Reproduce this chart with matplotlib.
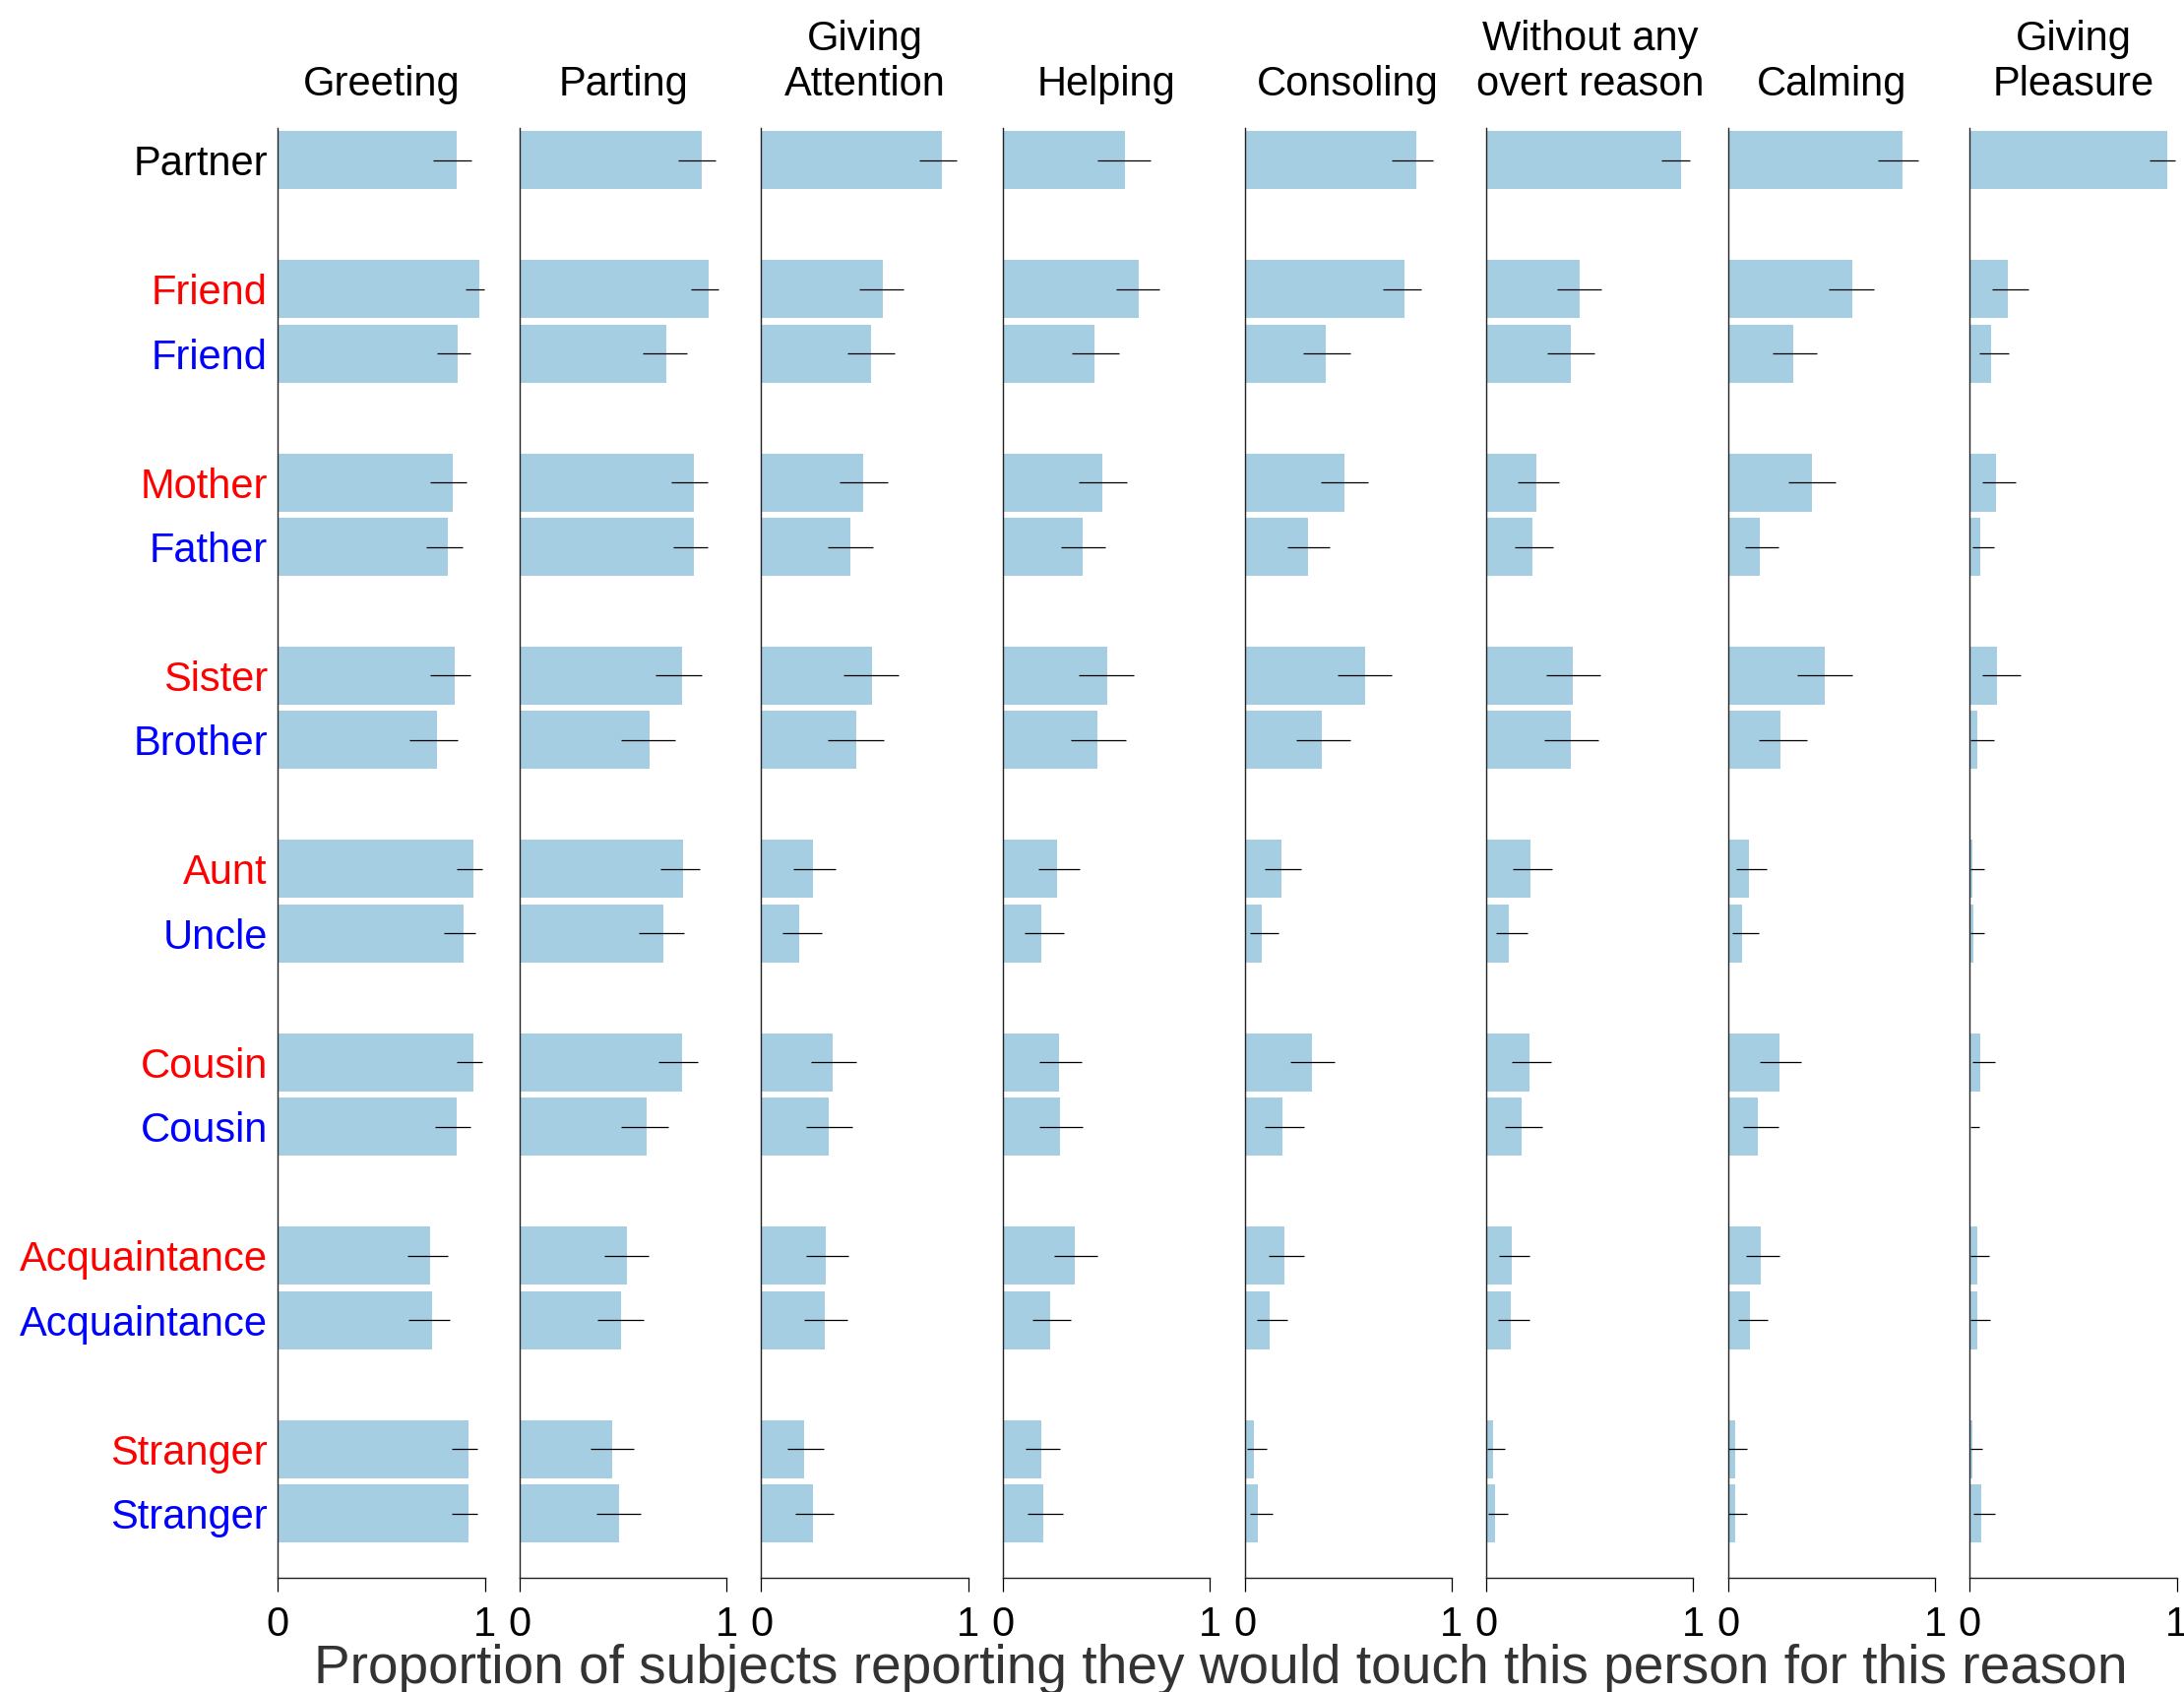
import numpy as np
import matplotlib
matplotlib.use("Agg")
import matplotlib.pyplot as plt

plt.rcParams['font.family'] = ['Liberation Sans', 'DejaVu Sans']

# righe (persone) e colore delle etichette
persons = ["Partner", "Friend", "Friend", "Mother", "Father", "Sister", "Brother",
           "Aunt", "Uncle", "Cousin", "Cousin", "Acquaintance", "Acquaintance",
           "Stranger", "Stranger"]
label_colors = ["black"] + ["red", "blue"] * 7

# pannelli (motivi del contatto)
reasons = ["Greeting", "Parting", "Giving\nAttention", "Helping", "Consoling",
           "Without any\novert reason", "Calming", "Giving\nPleasure"]

# proporzioni e intervalli (lo, hi) per ciascun motivo
greeting = [0.862, 0.973, 0.867, 0.843, 0.819, 0.856, 0.767, 0.943, 0.899, 0.945, 0.862, 0.734, 0.743, 0.919, 0.919]
greeting_lo = [0.750, 0.906, 0.769, 0.737, 0.716, 0.735, 0.636, 0.864, 0.802, 0.864, 0.761, 0.628, 0.632, 0.838, 0.838]
greeting_hi = [0.935, 0.995, 0.932, 0.913, 0.894, 0.932, 0.867, 0.986, 0.956, 0.986, 0.930, 0.821, 0.832, 0.965, 0.965]

parting = [0.878, 0.913, 0.711, 0.840, 0.841, 0.787, 0.630, 0.792, 0.697, 0.783, 0.614, 0.519, 0.490, 0.448, 0.481]
parting_lo = [0.765, 0.829, 0.595, 0.735, 0.741, 0.659, 0.492, 0.681, 0.575, 0.671, 0.492, 0.408, 0.376, 0.341, 0.371]
parting_hi = [0.946, 0.962, 0.808, 0.911, 0.911, 0.881, 0.751, 0.873, 0.795, 0.863, 0.721, 0.625, 0.600, 0.552, 0.586]

attention = [0.875, 0.588, 0.532, 0.494, 0.431, 0.534, 0.458, 0.250, 0.185, 0.345, 0.325, 0.314, 0.309, 0.206, 0.250]
attention_lo = [0.765, 0.475, 0.414, 0.377, 0.320, 0.399, 0.323, 0.157, 0.103, 0.241, 0.219, 0.217, 0.209, 0.125, 0.162]
attention_hi = [0.943, 0.689, 0.645, 0.609, 0.540, 0.662, 0.593, 0.358, 0.292, 0.458, 0.441, 0.422, 0.418, 0.303, 0.349]

helping = [0.590, 0.658, 0.444, 0.482, 0.387, 0.502, 0.458, 0.263, 0.187, 0.273, 0.274, 0.349, 0.227, 0.184, 0.197]
helping_lo = [0.455, 0.545, 0.331, 0.365, 0.279, 0.368, 0.326, 0.170, 0.105, 0.176, 0.176, 0.249, 0.141, 0.111, 0.119]
helping_hi = [0.712, 0.756, 0.559, 0.597, 0.494, 0.631, 0.593, 0.372, 0.293, 0.382, 0.387, 0.456, 0.330, 0.277, 0.292]

consoling = [0.829, 0.772, 0.392, 0.483, 0.304, 0.584, 0.375, 0.176, 0.081, 0.323, 0.182, 0.191, 0.120, 0.044, 0.066]
consoling_lo = [0.709, 0.668, 0.282, 0.367, 0.206, 0.449, 0.248, 0.098, 0.028, 0.220, 0.098, 0.114, 0.058, 0.011, 0.024]
consoling_hi = [0.911, 0.854, 0.509, 0.598, 0.410, 0.709, 0.509, 0.275, 0.166, 0.434, 0.286, 0.288, 0.207, 0.108, 0.136]

no_reason = [0.940, 0.451, 0.407, 0.242, 0.223, 0.419, 0.408, 0.214, 0.108, 0.210, 0.169, 0.123, 0.120, 0.033, 0.044]
no_reason_lo = [0.847, 0.340, 0.294, 0.150, 0.136, 0.290, 0.278, 0.128, 0.046, 0.125, 0.090, 0.063, 0.055, 0.006, 0.011]
no_reason_hi = [0.983, 0.557, 0.522, 0.350, 0.323, 0.552, 0.543, 0.318, 0.198, 0.313, 0.271, 0.209, 0.207, 0.092, 0.106]

calming = [0.843, 0.600, 0.316, 0.407, 0.153, 0.468, 0.255, 0.101, 0.068, 0.248, 0.142, 0.158, 0.108, 0.033, 0.033]
calming_lo = [0.726, 0.486, 0.215, 0.293, 0.081, 0.335, 0.149, 0.041, 0.019, 0.155, 0.071, 0.085, 0.047, 0.003, 0.003]
calming_hi = [0.921, 0.703, 0.430, 0.522, 0.244, 0.600, 0.384, 0.187, 0.147, 0.354, 0.242, 0.250, 0.193, 0.090, 0.090]

pleasure = [0.956, 0.185, 0.103, 0.128, 0.049, 0.134, 0.036, 0.014, 0.016, 0.051, 0.004, 0.035, 0.038, 0.011, 0.055]
pleasure_lo = [0.869, 0.108, 0.044, 0.062, 0.013, 0.060, 0.002, 0.002, 0.002, 0.013, 0.001, 0.005, 0.005, 0.002, 0.017]
pleasure_hi = [0.991, 0.283, 0.191, 0.220, 0.116, 0.245, 0.116, 0.068, 0.071, 0.122, 0.046, 0.093, 0.100, 0.060, 0.122]

panels = [(greeting, greeting_lo, greeting_hi),
          (parting, parting_lo, parting_hi),
          (attention, attention_lo, attention_hi),
          (helping, helping_lo, helping_hi),
          (consoling, consoling_lo, consoling_hi),
          (no_reason, no_reason_lo, no_reason_hi),
          (calming, calming_lo, calming_hi),
          (pleasure, pleasure_lo, pleasure_hi)]

# Partner in alto, poi coppie (rosso/blu) separate da una riga vuota
ypos = [0] + [3 * k + j - 1 for k in range(1, 8) for j in (0, 1)]

W, H = 2219, 1719
fig = plt.figure(figsize=(W / 100, H / 100), dpi=100)

left0 = 282.3 / W
step = 245.57 / W
width = 210.3 / W
bottom = 1 - 1603 / H
top = 1 - 130 / H

bar_color = "#a6cee3"

for i, (reason, (vals, lo, hi)) in enumerate(zip(reasons, panels)):
    ax = fig.add_axes([left0 + i * step, bottom, width, top - bottom])
    ax.barh(ypos, vals, height=0.9, color=bar_color, edgecolor="none")
    ax.hlines(ypos, lo, hi, color="black", linewidth=0.9)
    ax.set_xlim(0, 1)
    ax.set_ylim(22, -0.5)
    ax.set_xticks([0, 1])
    ax.set_xticklabels(["0", "1"], fontsize=30)
    ax.tick_params(axis="x", length=10, width=0.9, pad=10)
    ax.spines["top"].set_visible(False)
    ax.spines["right"].set_visible(False)
    for s in ("left", "bottom"):
        ax.spines[s].set_linewidth(1.0)
        ax.spines[s].set_color("#222222")
    if i == 0:
        ax.set_yticks(ypos)
        ax.set_yticklabels(persons, fontsize=30)
        ax.tick_params(axis="y", length=0, pad=7.5)
        for lab, c in zip(ax.get_yticklabels(), label_colors):
            lab.set_color(c)
    else:
        ax.set_yticks([])
    ax.set_title(reason, fontsize=30, va="bottom", pad=17, linespacing=1.22)

fig.text(1240 / W, 1 - 1710 / H,
         "Proportion of subjects reporting they would touch this person for this reason",
         ha="center", va="baseline", fontsize=39.6, color="#333333")

plt.savefig("out.png", dpi=100)
